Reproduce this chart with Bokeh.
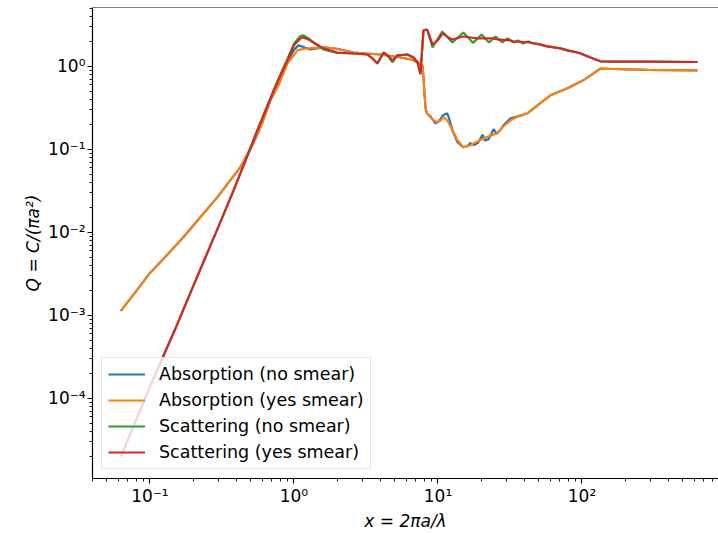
from bokeh.plotting import figure
from bokeh.models import Range1d, FixedTicker, CustomJSTickFormatter, Span
from bokeh.embed import file_html
from bokeh.resources import INLINE

# ---------------- data ----------------
abs_ns_x = [0.0628, 0.08, 0.1, 0.13, 0.171, 0.22, 0.294, 0.36, 0.425, 0.523, 0.6, 0.687, 0.78,
            0.902, 1.0, 1.075, 1.15, 1.30, 1.6, 2.0, 2.59, 3.2, 3.99, 5.49, 6.5, 7.21, 7.8,
            7.95, 8.06, 8.2, 8.4, 8.87, 9.6, 10.2, 10.9, 11.6, 12.1, 12.6, 13.65, 15.0, 16.0,
            16.8, 17.8, 19.0, 20.4, 21.2, 22.5, 24.3, 25.5, 27.0, 28.5, 31.9, 36.0, 41.8, 49.0,
            60.4, 79.3, 102.0, 115.0, 134.0, 165.0, 285.0, 634.0]
abs_ns_y = [1.135e-3, 1.95e-3, 3.25e-3, 5.25e-3, 8.8e-3, 0.0147, 0.0266, 0.042, 0.0611, 0.119,
            0.205, 0.39, 0.6, 1.15, 1.58, 1.79, 1.72, 1.6, 1.69, 1.63, 1.47, 1.43, 1.39, 1.28,
            1.21, 1.12, 1.03, 0.7, 0.47, 0.31, 0.27, 0.25, 0.206, 0.22, 0.26, 0.272, 0.22, 0.17,
            0.122, 0.106, 0.11, 0.119, 0.113, 0.12, 0.15, 0.128, 0.133, 0.175, 0.155, 0.17,
            0.195, 0.237, 0.25, 0.272, 0.34, 0.448, 0.544, 0.679, 0.78, 0.94, 0.93, 0.91, 0.895]

abs_ys_x = [0.0628, 0.08, 0.1, 0.13, 0.171, 0.22, 0.294, 0.36, 0.425, 0.523, 0.6, 0.687, 0.78,
            0.902, 1.0, 1.057, 1.15, 1.24, 1.71, 2.0, 2.59, 3.2, 3.99, 5.49, 6.5, 7.21, 7.8,
            7.95, 8.06, 8.2, 8.4, 8.87, 9.3, 9.93, 10.5, 10.9, 11.6, 12.6, 13.65, 15.0, 16.8,
            20.7, 25.9, 28.5, 31.9, 36.0, 41.8, 49.0, 60.4, 79.3, 102.0, 115.0, 134.0, 165.0,
            285.0, 634.0]
abs_ys_y = [1.135e-3, 1.95e-3, 3.25e-3, 5.25e-3, 8.8e-3, 0.0147, 0.0266, 0.042, 0.0611, 0.119,
            0.205, 0.39, 0.588, 1.09, 1.37, 1.56, 1.62, 1.65, 1.69, 1.62, 1.47, 1.43, 1.39, 1.28,
            1.21, 1.12, 1.03, 0.7, 0.47, 0.31, 0.27, 0.244, 0.225, 0.212, 0.225, 0.244, 0.224,
            0.17, 0.129, 0.106, 0.112, 0.136, 0.157, 0.19, 0.224, 0.25, 0.272, 0.34, 0.448,
            0.544, 0.679, 0.78, 0.94, 0.93, 0.91, 0.895]

sca_ns_x = [0.0628, 0.1, 0.15, 0.2, 0.3, 0.374, 0.468, 0.561, 0.723, 0.8, 0.9, 1.0, 1.1,
            1.16, 1.25, 1.37, 1.6, 2.0, 2.59, 3.24, 3.5, 3.8, 4.19, 4.5, 4.83, 5.23, 6.14, 6.76,
            7.2, 7.56, 7.93, 8.3, 8.46, 9.16, 10.7, 12.6, 15.0, 17.5, 20.1, 22.6, 25.1, 28.0,
            30.5, 33.6, 36.0, 39.0, 42.0, 46.0, 50.0, 54.0, 57.6, 70.9, 79.3, 93.0, 97.7, 114.6,
            134.0, 165.0, 285.0, 634.0]
sca_ns_y = [2.0e-5, 1.39e-4, 6.9e-4, 2.27e-3, 0.0119, 0.0298, 0.0784, 0.175, 0.515, 0.78,
            1.22, 1.88, 2.3, 2.36, 2.2, 1.92, 1.6, 1.45, 1.43, 1.39, 1.25, 1.08, 1.47, 1.32, 1.12,
            1.36, 1.39, 1.28, 1.12, 0.8, 2.71, 2.78, 2.7, 1.69, 2.63, 1.94, 2.56, 1.92, 2.42,
            1.94, 2.29, 1.94, 2.17, 1.94, 2.05, 1.89, 2.0, 1.89, 1.86, 1.79, 1.74, 1.65, 1.56,
            1.47, 1.43, 1.28, 1.15, 1.14, 1.14, 1.13]

sca_ys_x = [0.0628, 0.1, 0.15, 0.2, 0.3, 0.374, 0.468, 0.561, 0.723, 0.8, 0.9, 1.0, 1.1,
            1.16, 1.25, 1.37, 1.6, 2.0, 2.59, 3.24, 3.5, 3.8, 4.19, 4.5, 4.83, 5.23, 6.14, 6.76,
            7.2, 7.56, 7.93, 8.3, 8.46, 9.16, 9.93, 10.8, 11.5, 12.2, 12.6, 15.0, 18.8, 24.3,
            25.9, 31.9, 33.4, 43.9, 54.0, 57.6, 70.9, 79.3, 93.0, 97.7, 114.6, 134.0, 165.0,
            285.0, 634.0]
sca_ys_y = [2.0e-5, 1.39e-4, 6.9e-4, 2.27e-3, 0.0119, 0.0298, 0.0784, 0.175, 0.515, 0.76,
            1.18, 1.8, 2.15, 2.23, 2.12, 1.94, 1.65, 1.47, 1.43, 1.39, 1.25, 1.09, 1.47, 1.35,
            1.18, 1.36, 1.39, 1.28, 1.12, 0.824, 2.71, 2.78, 2.7, 1.84, 2.05, 2.5, 2.3, 2.17,
            2.11, 2.29, 2.17, 2.17, 2.11, 2.05, 2.0, 1.94, 1.79, 1.74, 1.65, 1.56, 1.47, 1.43,
            1.28, 1.15, 1.14, 1.14, 1.13]

labels = ["Absorption (no smear)", "Absorption (yes smear)",
          "Scattering (no smear)", "Scattering (yes smear)"]
colors = ["#1f77b4", "#ff7f0e", "#2ca02c", "#d62728"]

x_major = [0.1, 1, 10, 100]
y_major = [1e-4, 1e-3, 1e-2, 1e-1, 1]
x_limits = (0.0399, 887.0)
y_limits = (1.086e-5, 5.12)

FONT = "DejaVu Sans"

# ---------------- figure ----------------
p = figure(width=718, height=533, x_axis_type="log", y_axis_type="log",
           x_range=Range1d(*x_limits), y_range=Range1d(*y_limits),
           output_backend="svg", toolbar_location=None,
           min_border_left=92, min_border_right=0, min_border_top=7, min_border_bottom=10)
p.outline_line_color = None
p.xgrid.visible = False
p.ygrid.visible = False
p.background_fill_color = "white"
p.border_fill_color = "white"

series = [(abs_ns_x, abs_ns_y), (abs_ys_x, abs_ys_y), (sca_ns_x, sca_ns_y), (sca_ys_x, sca_ys_y)]
for (xs, ys), c, lab in zip(series, colors, labels):
    p.line(xs, ys, line_color=c, line_width=2.2, legend_label=lab)

# top spine
p.add_layout(Span(location=y_limits[1], dimension="width", line_color="black", line_width=1.2))

def minor_list(lo_exp, hi_exp):
    out = []
    for e in range(lo_exp, hi_exp + 1):
        for m in range(2, 10):
            out.append(m * 10.0 ** e)
    return out

fmt = CustomJSTickFormatter(code="""
const e = Math.round(Math.log10(tick));
const sup = {'-':'\u207b','0':'\u2070','1':'\u00b9','2':'\u00b2','3':'\u00b3','4':'\u2074',
             '5':'\u2075','6':'\u2076','7':'\u2077','8':'\u2078','9':'\u2079'};
return '10' + String(e).split('').map(c => sup[c]).join('');
""")

p.xaxis.ticker = FixedTicker(ticks=x_major, minor_ticks=minor_list(-2, 2))
p.yaxis.ticker = FixedTicker(ticks=y_major, minor_ticks=minor_list(-6, 0))
for ax in (p.xaxis[0], p.yaxis[0]):
    ax.formatter = fmt
    ax.axis_line_width = 1.2
    ax.axis_line_color = "black"
    ax.major_tick_line_width = 1.1
    ax.minor_tick_line_width = 0.9
    ax.major_tick_out = 5
    ax.major_tick_in = 0
    ax.minor_tick_out = 3
    ax.minor_tick_in = 0
    ax.major_label_text_font = FONT
    ax.major_label_text_font_size = "17px"
    ax.major_label_text_color = "black"
    ax.axis_label_text_font = FONT
    ax.axis_label_text_font_size = "17px"
    ax.axis_label_text_font_style = "italic"
    ax.axis_label_text_color = "black"
    ax.major_label_standoff = 2

p.xaxis.axis_label = "x = 2\u03c0a/\u03bb"
p.yaxis.axis_label = "Q = C/(\u03c0a\u00b2)"
p.xaxis.axis_label_standoff = 2
p.yaxis.axis_label_standoff = 2

lg = p.legend[0]
lg.location = (9, 9)
lg.border_line_color = "#cccccc"
lg.border_line_width = 1
lg.background_fill_color = "white"
lg.background_fill_alpha = 0.8
lg.label_text_font = FONT
lg.label_text_font_size = "17.5px"
lg.label_text_color = "black"
lg.glyph_width = 37
lg.glyph_height = 20
lg.label_height = 20
lg.spacing = 6
lg.padding = 6
lg.margin = 0
lg.label_standoff = 14

open("out.html", "w").write(file_html(p, INLINE))
